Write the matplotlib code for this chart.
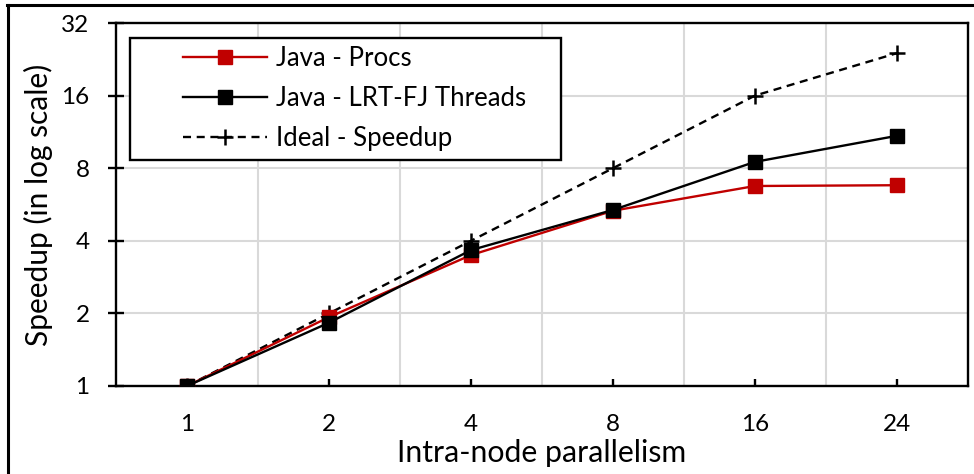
import matplotlib
matplotlib.use("Agg")
import matplotlib.pyplot as plt
from matplotlib.lines import Line2D
from matplotlib.patches import Rectangle
import numpy as np

plt.rcParams['font.family'] = ['Lato', 'DejaVu Sans']

categories = ["1", "2", "4", "8", "16", "24"]
procs = [1.0, 1.93, 3.49, 5.33, 6.75, 6.8]
threads = [1.0, 1.83, 3.66, 5.37, 8.5, 10.9]
ideal = [1, 2, 4, 8, 16, 24]
y_ticks = [1, 2, 4, 8, 16, 32]

fig = plt.figure(figsize=(9.74, 4.74), dpi=100)
ax = fig.add_axes([116/974, 1-386/474, (968-116)/974, (386-23)/474])

x = np.arange(len(categories))
ax.plot(x, procs, color='#c00000', lw=1.7, marker='s', ms=10, mfc='#c00000', mec='#c00000',
        label='Java - Procs', zorder=4)
ax.plot(x, threads, color='black', lw=1.7, marker='s', ms=10, mfc='black', mec='black',
        label='Java - LRT-FJ Threads', zorder=5)
ax.plot(x, ideal, color='black', lw=1.7, ls=(0, (3.4, 2.4)), marker='+', ms=12, mew=1.8,
        label='Ideal - Speedup', zorder=3)

ax.set_yscale('log', base=2)
ax.set_ylim(1, 32)
ax.set_yticks(y_ticks)
ax.set_yticklabels([str(v) for v in y_ticks])
ax.yaxis.set_minor_locator(matplotlib.ticker.NullLocator())
ax.set_xlim(-0.5, len(categories) - 0.5)
ax.set_xticks(x)
ax.set_xticklabels(categories)
ax.set_xticks(np.arange(0.5, len(categories) - 1, 1.0), minor=True)

ax.grid(True, which='major', axis='y', color='#d9d9d9', lw=1.5, zorder=0)
ax.grid(True, which='minor', axis='x', color='#d9d9d9', lw=1.5, zorder=0)
ax.set_axisbelow(True)

for s in ax.spines.values():
    s.set_linewidth(1.7)
    s.set_color('black')

ax.tick_params(axis='y', which='major', direction='inout', length=12, width=1.7,
               labelsize=17.5, pad=13)
ax.tick_params(axis='x', which='major', direction='in', length=5, width=1.7,
               labelsize=17.5, pad=20)
ax.tick_params(axis='x', which='minor', length=0)

ax.set_xlabel('Intra-node parallelism', fontsize=21.8, labelpad=3)
ax.set_ylabel('Speedup (in log scale)', fontsize=21.5, labelpad=6)

# legend frame drawn as a rectangle, legend content without frame
ax.add_patch(Rectangle((14/852, (386-160)/363), 431/852, 122/363, transform=ax.transAxes,
                       facecolor='white', edgecolor='black', lw=1.7, zorder=6))
leg = ax.legend(loc='upper left', bbox_to_anchor=((183-116)/852, (386-46)/363),
                borderaxespad=0, borderpad=0, fontsize=18.5, handlelength=3.25,
                handletextpad=0.35, labelspacing=0.58, frameon=False)
leg.set_zorder(7)

# outer figure frame (top and left)
fig.add_artist(Line2D([7/974, 1.0], [1-5/474, 1-5/474], transform=fig.transFigure,
                      color='black', lw=2.2))
fig.add_artist(Line2D([8/974, 8/974], [0.0, 1-5/474], transform=fig.transFigure,
                      color='black', lw=2.2))

fig.savefig('out.png', dpi=100)
